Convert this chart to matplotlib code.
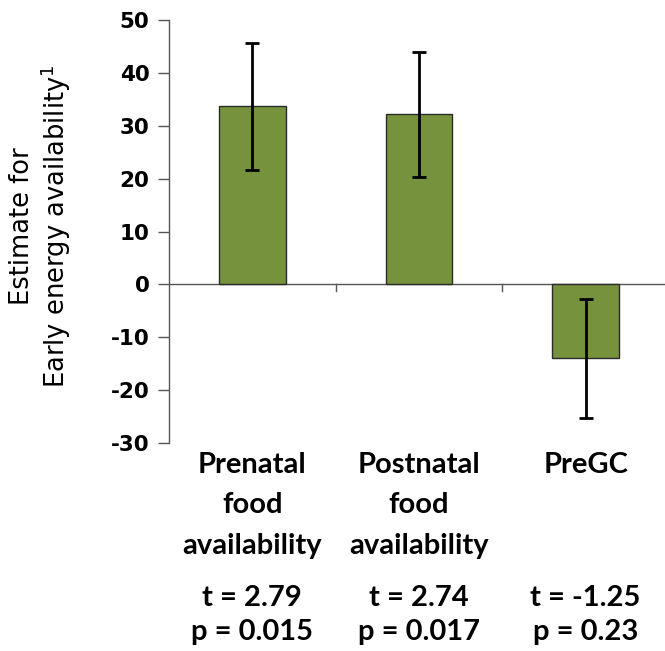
import matplotlib
matplotlib.use("Agg")
import matplotlib.pyplot as plt
import matplotlib.transforms as mtransforms

categories = ["Prenatal\nfood\navailability", "Postnatal\nfood\navailability", "PreGC"]
estimates = [33.7, 32.2, -14.0]
errors = [12.0, 11.8, 11.3]
t_values = ["2.79", "2.74", "-1.25"]
p_values = ["0.015", "0.017", "0.23"]
y_ticks = [-30, -20, -10, 0, 10, 20, 30, 40, 50]

fig = plt.figure(figsize=(6.65, 6.51), dpi=100)
ax = fig.add_axes([0.254, 0.3195, 0.752, 0.6495])

x = list(range(len(categories)))
ax.bar(x, estimates, width=0.4, color="#77923c", edgecolor="#2b2b2b", linewidth=1.0, zorder=2)
ax.errorbar(x, estimates, yerr=errors, fmt="none", ecolor="black", elinewidth=2,
            capsize=5, capthick=2, zorder=3)

ax.set_xlim(-0.5, 2.5)
ax.set_ylim(-30, 50)
ax.set_yticks(y_ticks)
ax.set_yticklabels([str(v) for v in y_ticks], fontsize=15.5, fontweight="bold",
                   family="DejaVu Sans")
ax.tick_params(axis="y", direction="out", length=8, width=1, color="#555555", pad=6)

for side in ["top", "right", "bottom"]:
    ax.spines[side].set_visible(False)
ax.spines["left"].set_color("#555555")
ax.spines["left"].set_linewidth(1)

# x axis drawn at zero with boundary ticks
ax.axhline(0, color="#555555", linewidth=1, zorder=1)
ax.set_xticks([])
for b in [0.5, 1.5, 2.5]:
    ax.plot([b, b], [0, -1.2], color="#555555", linewidth=1, clip_on=False)

fig.text(41 / 665, 1 - 226 / 651, "Estimate for\nEarly energy availability$^1$",
         rotation=90, ha="center", va="center", fontsize=18.5,
         family="DejaVu Sans", linespacing=1.12)

tx = mtransforms.blended_transform_factory(ax.transData, fig.transFigure)
for i, lab in enumerate(categories):
    ax.text(i, 1 - 452 / 651, lab, transform=tx, ha="center", va="top",
            fontsize=21, fontweight="bold", family="Lato", linespacing=1.68)
    ax.text(i, 1 - 598 / 651, "t = " + t_values[i], transform=tx, ha="center",
            va="center", fontsize=21, fontweight="bold", family="Lato")
    ax.text(i, 1 - 632 / 651, "p = " + p_values[i], transform=tx, ha="center",
            va="center", fontsize=21, fontweight="bold", family="Lato")

fig.savefig("out.png", dpi=100)
